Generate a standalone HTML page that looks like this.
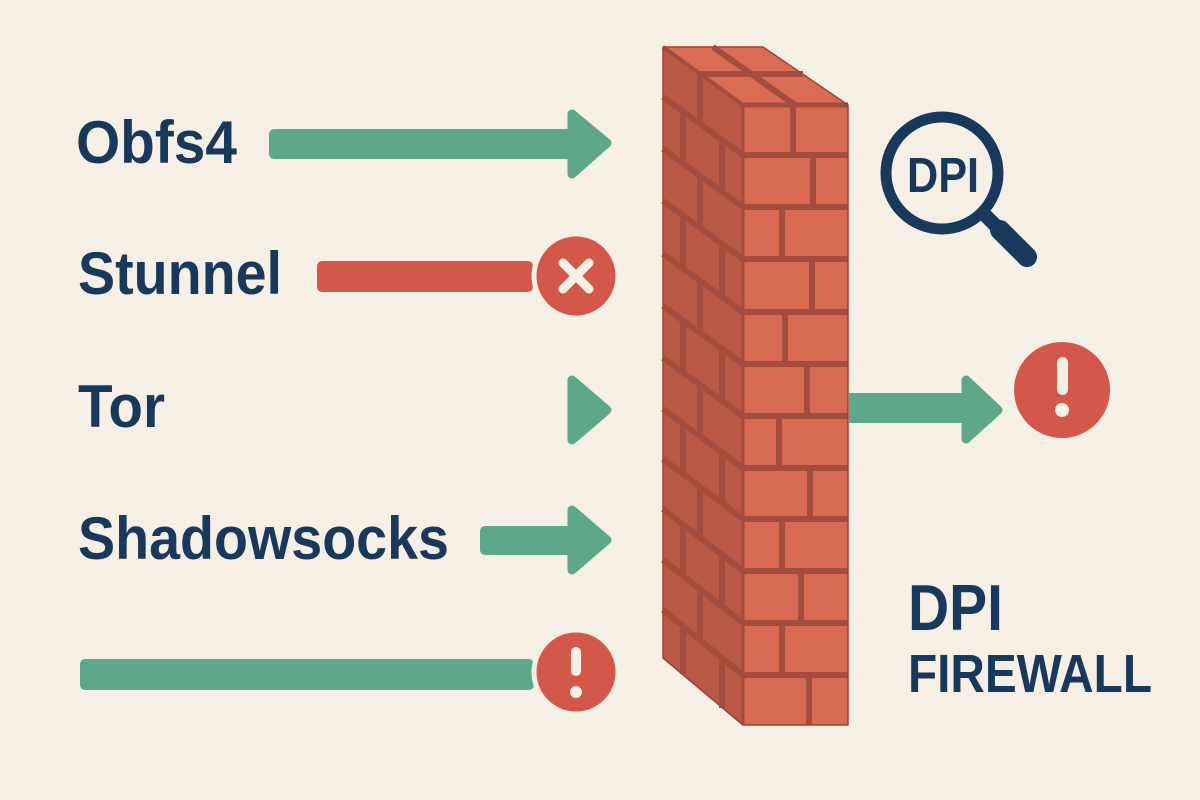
<!DOCTYPE html>
<html>
<head>
<meta charset="utf-8">
<style>
html,body{margin:0;padding:0;background:#f6efe5;}
svg{display:block;}
text{font-family:"Liberation Sans","DejaVu Sans",sans-serif;font-weight:bold;fill:#18395b;}
</style>
</head>
<body>
<svg width="1200" height="800" viewBox="0 0 1200 800" xmlns="http://www.w3.org/2000/svg">
<rect width="1200" height="800" fill="#f6efe5"/>

<!-- Labels -->
<text x="76" y="163" font-size="60" textLength="161" lengthAdjust="spacingAndGlyphs">Obfs4</text>
<text x="78" y="294" font-size="60" textLength="204" lengthAdjust="spacingAndGlyphs">Stunnel</text>
<text x="78" y="427" font-size="60" textLength="87" lengthAdjust="spacingAndGlyphs">Tor</text>
<text x="78" y="559" font-size="60" textLength="371" lengthAdjust="spacingAndGlyphs">Shadowsocks</text>

<!-- Obfs4 arrow -->
<g fill="#5ea78b" stroke="#5ea78b" stroke-linejoin="round">
  <rect x="269" y="129" width="305" height="30" rx="5" stroke="none"/>
  <polygon points="572,114 607,143 572,174" stroke-width="9"/>
</g>

<!-- Stunnel blocked -->
<rect x="317" y="261" width="216" height="31" rx="5" fill="#d3584a"/>
<circle cx="576" cy="276" r="42" fill="#d3584a" stroke="#f6efe5" stroke-width="5"/>
<g stroke="#f6efe5" stroke-width="9" stroke-linecap="round">
  <line x1="563" y1="263" x2="589" y2="289"/>
  <line x1="589" y1="263" x2="563" y2="289"/>
</g>

<!-- Tor arrowhead -->
<polygon points="572,380 607,410 572,440" fill="#5ea78b" stroke="#5ea78b" stroke-width="9" stroke-linejoin="round"/>

<!-- Shadowsocks arrow -->
<g fill="#5ea78b" stroke="#5ea78b" stroke-linejoin="round">
  <rect x="480" y="526" width="94" height="29" rx="5" stroke="none"/>
  <polygon points="572,510 607,540 572,570" stroke-width="9"/>
</g>

<!-- Bottom bar -->
<rect x="80" y="659" width="454" height="31" rx="5" fill="#5ea78b"/>
<circle cx="576" cy="672" r="42" fill="#d3584a" stroke="#f6efe5" stroke-width="5"/>
<rect x="571" y="647" width="10" height="29" rx="5" fill="#f6efe5"/>
<circle cx="576" cy="692" r="6" fill="#f6efe5"/>

<!-- WALL -->
<g>
  <polygon points="663,47 743,105 743,725 663,658" fill="#b95843"/>
  <rect x="743" y="105" width="105" height="620" fill="#d76a51"/>
  <polygon points="663,47 763,47 848,105 743,105" fill="#d96c53"/>
  <g stroke="#a44c3d" stroke-width="6" fill="none">
    <line x1="700" y1="74" x2="803" y2="74"/>
    <line x1="713" y1="47" x2="795" y2="105"/>
    <line x1="663" y1="47" x2="743" y2="105" stroke-width="4"/>
    <line x1="743" y1="105" x2="848" y2="105" stroke-width="5"/>
    <line x1="743" y1="155" x2="848" y2="155"/>
    <line x1="743" y1="207" x2="848" y2="207"/>
    <line x1="743" y1="259" x2="848" y2="259"/>
    <line x1="743" y1="312" x2="848" y2="312"/>
    <line x1="743" y1="364" x2="848" y2="364"/>
    <line x1="743" y1="416" x2="848" y2="416"/>
    <line x1="743" y1="468" x2="848" y2="468"/>
    <line x1="743" y1="519" x2="848" y2="519"/>
    <line x1="743" y1="571" x2="848" y2="571"/>
    <line x1="743" y1="623" x2="848" y2="623"/>
    <line x1="743" y1="675" x2="848" y2="675"/>
    <line x1="793" y1="105" x2="793" y2="155"/>
    <line x1="813" y1="155" x2="813" y2="207"/>
    <line x1="782" y1="207" x2="782" y2="259"/>
    <line x1="812" y1="259" x2="812" y2="312"/>
    <line x1="785" y1="312" x2="785" y2="364"/>
    <line x1="807" y1="364" x2="807" y2="416"/>
    <line x1="779" y1="416" x2="779" y2="468"/>
    <line x1="810" y1="468" x2="810" y2="519"/>
    <line x1="782" y1="519" x2="782" y2="571"/>
    <line x1="801" y1="571" x2="801" y2="623"/>
    <line x1="782" y1="623" x2="782" y2="675"/>
    <line x1="809" y1="675" x2="809" y2="725"/>
    <line x1="743" y1="105" x2="743" y2="725" stroke-width="3"/>
    <line x1="663" y1="97" x2="743" y2="155"/>
    <line x1="663" y1="149" x2="743" y2="207"/>
    <line x1="663" y1="201" x2="743" y2="259"/>
    <line x1="663" y1="254" x2="743" y2="312"/>
    <line x1="663" y1="306" x2="743" y2="364"/>
    <line x1="663" y1="358" x2="743" y2="416"/>
    <line x1="663" y1="409" x2="743" y2="468"/>
    <line x1="663" y1="459" x2="743" y2="519"/>
    <line x1="663" y1="509" x2="743" y2="571"/>
    <line x1="663" y1="560" x2="743" y2="623"/>
    <line x1="663" y1="610" x2="743" y2="675"/>
    <line x1="700" y1="74" x2="700" y2="124"/>
    <line x1="683" y1="111" x2="683" y2="163"/>
    <line x1="722" y1="140" x2="722" y2="192"/>
    <line x1="700" y1="175" x2="700" y2="227"/>
    <line x1="683" y1="216" x2="683" y2="268"/>
    <line x1="722" y1="244" x2="722" y2="297"/>
    <line x1="700" y1="281" x2="700" y2="333"/>
    <line x1="683" y1="320" x2="683" y2="372"/>
    <line x1="722" y1="349" x2="722" y2="401"/>
    <line x1="700" y1="385" x2="700" y2="436"/>
    <line x1="683" y1="424" x2="683" y2="474"/>
    <line x1="722" y1="453" x2="722" y2="503"/>
    <line x1="700" y1="487" x2="700" y2="538"/>
    <line x1="683" y1="525" x2="683" y2="576"/>
    <line x1="722" y1="555" x2="722" y2="606"/>
    <line x1="700" y1="590" x2="700" y2="641"/>
    <line x1="683" y1="627" x2="683" y2="674"/>
    <line x1="722" y1="658" x2="722" y2="708"/>
  </g>
  <polygon points="663,47 763,47 848,105 848,725 743,725 663,658" fill="none" stroke="#9c4535" stroke-width="1.5" stroke-linejoin="round"/>
</g>

<!-- Right arrow -->
<g fill="#5ea78b" stroke="#5ea78b" stroke-linejoin="round">
  <rect x="849" y="393" width="119" height="30" stroke="none"/>
  <polygon points="966,380 998,410 966,439" stroke-width="9"/>
</g>
<circle cx="1062" cy="390" r="48" fill="#d3584a"/>
<rect x="1057" y="357" width="11" height="38" rx="5.5" fill="#f6efe5"/>
<circle cx="1062" cy="410" r="7" fill="#f6efe5"/>

<!-- Magnifier -->
<circle cx="942" cy="173" r="56" fill="none" stroke="#18395b" stroke-width="11"/>
<line x1="982" y1="212" x2="1000" y2="230" stroke="#18395b" stroke-width="14"/>
<line x1="1000" y1="230" x2="1027" y2="257" stroke="#18395b" stroke-width="20" stroke-linecap="round"/>
<text x="907" y="192" font-size="49" textLength="72" lengthAdjust="spacingAndGlyphs">DPI</text>

<!-- DPI FIREWALL -->
<text x="908" y="630" font-size="65" textLength="95" lengthAdjust="spacingAndGlyphs">DPI</text>
<text x="908" y="692" font-size="54" textLength="244" lengthAdjust="spacingAndGlyphs">FIREWALL</text>
</svg>
</body>
</html>
